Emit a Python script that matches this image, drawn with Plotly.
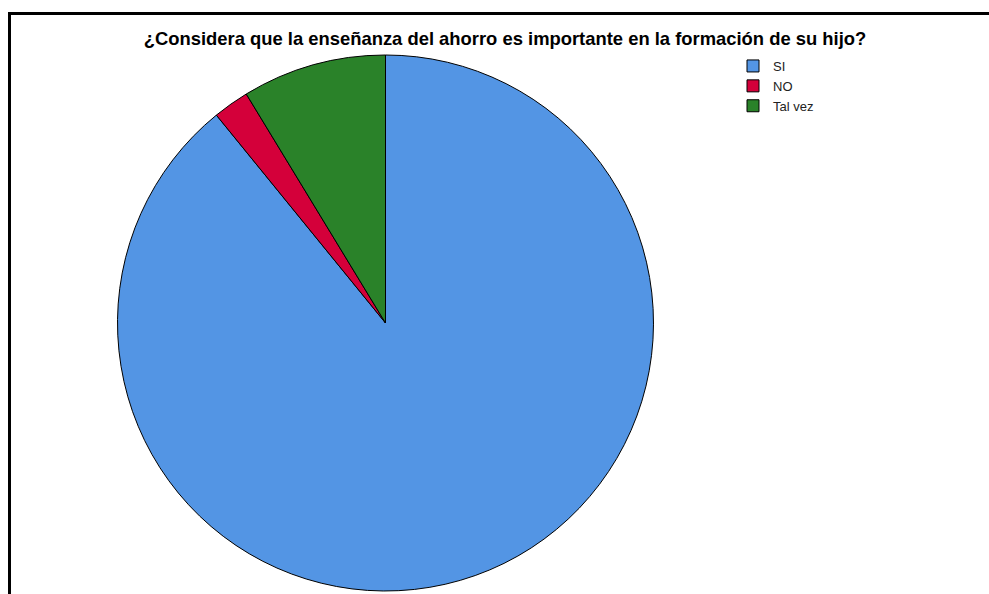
import plotly.graph_objects as go

categories = ["SI", "NO", "Tal vez"]
counts = [41, 1, 4]
colors = ["#5395E4", "#D4003A", "#2A8229"]
title_text = "¿Considera que la enseñanza del ahorro es importante en la formación de su hijo?"

W, H = 989, 594
cx, cy, r = 385.5, 323, 268

fig = go.Figure(go.Pie(
    labels=categories,
    values=counts,
    sort=False,
    direction="clockwise",
    rotation=0,
    textinfo="none",
    marker=dict(colors=colors, line=dict(color="#000000", width=1)),
    domain=dict(x=[(cx - r) / W, (cx + r) / W], y=[1 - (cy + r) / H, 1 - (cy - r) / H]),
))

fx, fy = 9.5 / W, 1 - 13.5 / H
frame_line = dict(color="#000000", width=3)

fig.update_layout(
    width=W, height=H,
    margin=dict(l=0, r=0, t=0, b=0),
    paper_bgcolor="white",
    plot_bgcolor="white",
    font=dict(family="Liberation Sans, Arial, sans-serif", color="#000000"),
    title=dict(
        text="<b>" + title_text + "</b>",
        x=505 / W, y=1 - 39 / H, xanchor="center", yanchor="middle",
        font=dict(size=18.4, family="Liberation Sans, Arial, sans-serif", color="#000000"),
    ),
    legend=dict(
        x=733 / W, y=1 - 51 / H, xanchor="left", yanchor="top",
        font=dict(size=13, color="#222222"),
        bgcolor="rgba(0,0,0,0)",
        borderwidth=0,
        itemwidth=30,
        tracegroupgap=0,
    ),
    shapes=[
        dict(type="line", xref="paper", yref="paper",
             x0=fx - 1.5 / W, x1=1.0, y0=fy, y1=fy, line=frame_line, layer="above"),
        dict(type="line", xref="paper", yref="paper",
             x0=fx, x1=fx, y0=fy + 1.5 / H, y1=0.0, line=frame_line, layer="above"),
    ],
)

fig.write_html(
    "out.html",
    config={"displayModeBar": False},
    post_script="document.body.style.margin='0';document.body.style.overflow='hidden';",
)
